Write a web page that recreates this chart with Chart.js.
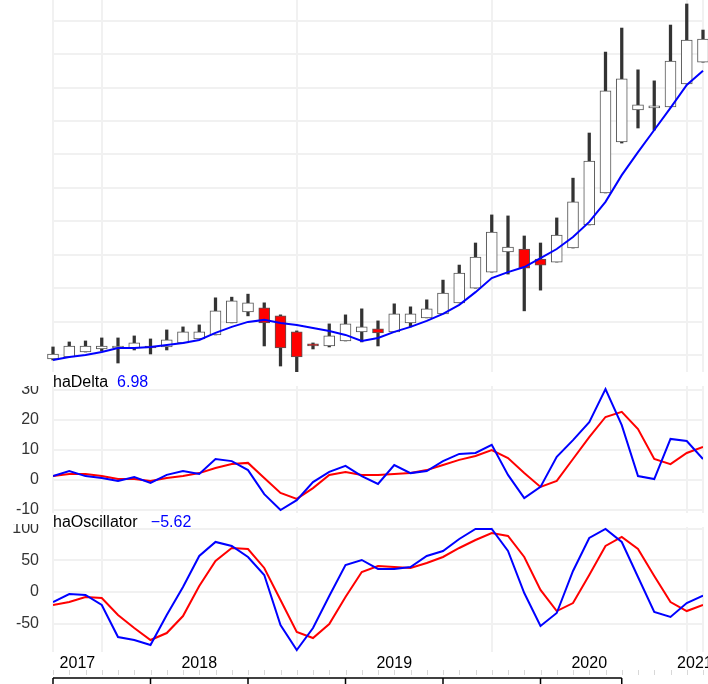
<!DOCTYPE html>
<html><head><meta charset="utf-8">
<script src="https://cdn.jsdelivr.net/npm/chart.js@4/dist/chart.umd.min.js"></script>
<style>
html,body{margin:0;padding:0;background:#fff;width:708px;height:684px;overflow:hidden;position:relative;font-family:"Liberation Sans",Arial,sans-serif;}
.p{position:absolute;left:0;width:760px;}
.t{position:absolute;font-size:16px;line-height:16px;white-space:pre;color:#000;}
.t b{font-weight:normal;color:#0000ff;}
</style></head><body>
<div class="p" style="top:0;height:372px"><canvas id="c1"></canvas></div>
<div class="p" style="top:386px;height:128px"><canvas id="c2"></canvas></div>
<div class="p" style="top:524px;height:160px"><canvas id="c3"></canvas></div>
<div class="t" style="left:53px;top:373.5px">haDelta  <b>6.98</b></div>
<div class="t" style="left:53px;top:513.5px">haOscillator   <b>−5.62</b></div>
<script>
const months = ['2017-10','2017-11','2017-12','2018-01','2018-02','2018-03','2018-04','2018-05','2018-06','2018-07','2018-08','2018-09','2018-10','2018-11','2018-12','2019-01','2019-02','2019-03','2019-04','2019-05','2019-06','2019-07','2019-08','2019-09','2019-10','2019-11','2019-12','2020-01','2020-02','2020-03','2020-04','2020-05','2020-06','2020-07','2020-08','2020-09','2020-10','2020-11','2020-12','2021-01','2021-02'];
const haOpen  = [18.8,19.4,20.9,21.8,22.1,22.1,22.7,22.4,23.6,24.8,26.0,29.6,32.9,34.1,31.7,26.9,23.3,22.7,24.2,26.9,27.8,26.9,29.6,31.1,32.3,35.6,40.0,44.8,50.8,51.7,48.7,47.8,52.0,58.9,68.5,83.7,93.3,93.9,94.2,101.1,107.6];
const haHigh  = [22.4,23.9,24.2,25.1,25.1,25.7,24.8,27.5,28.4,29.0,37.1,37.3,38.2,35.6,32.0,27.2,23.6,29.3,32.0,33.8,30.2,35.3,34.4,36.5,42.4,46.9,53.5,61.9,61.6,55.6,53.5,61.0,72.9,86.4,110.6,117.8,105.3,102.0,118.7,125.0,117.2];
const haLow   = [18.5,19.4,20.9,21.2,17.6,21.5,20.3,21.5,23.6,24.8,26.0,29.6,31.7,22.7,16.7,14.9,21.8,22.4,24.2,23.9,22.7,26.9,28.4,31.1,32.3,35.6,40.0,44.8,44.2,33.2,39.4,47.8,52.0,58.9,68.5,83.4,87.9,87.3,94.2,101.1,107.6];
const haClose = [20.3,22.7,22.7,22.7,22.4,23.6,22.1,24.5,26.9,26.9,33.2,36.2,35.6,29.6,22.1,19.4,22.7,25.7,29.3,28.4,26.6,32.3,32.3,33.8,38.5,44.5,49.3,56.8,52.3,46.0,46.9,55.9,65.8,78.0,99.0,102.6,94.8,94.2,107.9,114.2,114.5];
const smaLine = [18.5,19.4,20.0,20.9,22.1,22.1,22.4,23.0,23.6,24.5,26.6,28.4,29.9,30.5,29.6,29.0,28.1,27.2,26.0,24.2,25.1,26.9,28.4,30.2,32.3,35.0,38.8,43.0,44.8,46.3,49.0,51.7,55.3,59.8,65.8,73.8,80.7,87.3,93.9,100.8,105.0];
const haDelta    = [1.3,3.0,1.3,0.7,-0.3,1.0,-1.0,1.7,3.0,2.0,7.0,6.3,3.3,-4.7,-10.0,-6.7,-0.7,2.7,4.7,1.3,-1.3,5.0,2.3,3.0,6.3,8.7,9.0,11.7,1.7,-6.0,-2.3,7.7,13.3,19.3,30.3,18.3,1.3,0.3,13.7,13.0,6.98];
const haDeltaSig = [1.3,2.0,2.0,1.3,0.3,0.3,-0.3,0.7,1.3,2.3,4.0,5.3,5.7,0.7,-4.3,-6.3,-2.7,1.7,2.7,1.7,1.7,2.0,2.3,3.3,5.0,6.7,8.0,10.0,7.3,2.3,-2.3,-0.3,7.0,14.3,21.0,22.7,17.0,7.0,5.3,9.0,11.0];
const haOsc      = [-15.8,-3.2,-4.7,-20.5,-71.0,-75.7,-83.6,-36.3,7.9,56.8,78.9,72.6,55.2,26.8,-52,-91.5,-56.8,-6.3,42.6,50.5,36.3,36.3,39.4,56.8,64.7,83.6,99.4,99.4,64.7,-1.6,-53.6,-33.1,33.1,85.2,99.4,78.9,23.7,-31.5,-39.4,-17.4,-5.62];
const haOscSig   = [-20.5,-15.8,-7.9,-9.5,-36.3,-56.8,-75.7,-64.7,-37.9,9.5,48.9,69.4,67.8,37.9,-12.6,-63.1,-72.6,-50.5,-7.9,31.5,41.0,39.4,37.9,45.7,55.2,69.4,82.0,93.1,88.3,55.2,3.2,-30.0,-17.4,26.8,72.6,86.8,67.8,25.2,-15.8,-30.0,-20.5];
const axisTicks = [0,6,12,18,24,30,35];

const N = months.length;
const years = months.map(m => m.slice(0,4));
const yearStarts = [0];
for (let i = 1; i < N; i++) if (years[i] !== years[i-1]) yearStarts.push(i);
const gridX = yearStarts.concat([N-1]);
const edges = yearStarts.concat([N-1]);
const yearMid = yearStarts.map((s,k) => (s + edges[k+1]) / 2);
const yearLab = yearStarts.map(s => years[s]);

const GRID = '#f1f1f1';
const PADR = 760 - 703;
function yAxis(min, max, step, show) {
  return {
    min, max, position: 'left',
    afterFit(s){ s.width = 53; s.paddingTop = 0; s.paddingBottom = 0; },
    border: {display:false},
    grid: {color: GRID, lineWidth: 2, drawTicks: false},
    ticks: {display: show, stepSize: step, includeBounds: false, padding: 14,
      color: '#333', font: {family: 'Liberation Sans', size: 16}}
  };
}
function xGrid() {
  return {
    type: 'linear', min: 0, max: N-1, offset: false,
    display: true,
    border: {display:false},
    afterFit(s){ s.height = 0; s.paddingLeft = 0; s.paddingRight = 0; },
    afterBuildTicks(s){ s.ticks = gridX.map(v=>({value:v})); },
    grid: {color: GRID, lineWidth: 2, drawTicks: false, offset:false},
    ticks: {display: false}
  };
}
const common = {responsive: true, maintainAspectRatio: false, animation: false,
  plugins: {legend:{display:false}, tooltip:{enabled:false}},
  elements: {point:{radius:0}, line:{tension:0}}};

// main panel
new Chart(document.getElementById('c1'), {
  type: 'bar',
  data: { datasets: [
    { type:'line', data: smaLine.map((v,i)=>({x:i,y:v})), borderColor:'#0000ff', borderWidth:2, order:1, clip:false },
    { data: haClose.map((c,i)=>({x:i,y:[haOpen[i],c]})), barThickness:11, grouped:false, order:2, clip:false,
      backgroundColor: haClose.map((c,i)=> c < haOpen[i] ? '#ff0000' : '#ffffff'),
      borderColor:'#555', borderWidth:1, borderSkipped:false, minBarLength:2 },
    { data: haHigh.map((h,i)=>({x:i,y:[haLow[i],h]})), barThickness:2.6, grouped:false, order:3, clip:false,
      backgroundColor:'#333', borderWidth:0 }
  ]},
  options: Object.assign({}, common, {
    layout: {autoPadding:false, padding: {left:0, right:PADR, top:0, bottom:0}},
    scales: { x: xGrid(), y: yAxis(14.91, 126.19, 10, false) }
  })
});

new Chart(document.getElementById('c2'), {
  type: 'line',
  data: { datasets: [
    { data: haDeltaSig.map((v,i)=>({x:i,y:v})), borderColor:'#ff0000', borderWidth:2, order:2 },
    { data: haDelta.map((v,i)=>({x:i,y:v})), borderColor:'#0000ff', borderWidth:2, order:1 }
  ]},
  options: Object.assign({}, common, {
    layout: {autoPadding:false, padding: {left:0, right:PADR, top:0, bottom:1}},
    scales: { x: xGrid(), y: yAxis(-11, 31.33, 10, true) }
  })
});

const bottomAxis = {
  id: 'bottomAxis',
  afterDraw(chart) {
    const ctx = chart.ctx, x = chart.scales.x;
    const yl = 154;
    ctx.save();
    ctx.strokeStyle = '#d8d8d8'; ctx.lineWidth = 1;
    for (let i = 0; i < N; i++) {
      const px = Math.round(x.getPixelForValue(i)) + 0.5;
      ctx.beginPath(); ctx.moveTo(px, yl-8); ctx.lineTo(px, yl-3); ctx.stroke();
    }
    ctx.strokeStyle = '#000'; ctx.lineWidth = 1.5;
    ctx.beginPath();
    ctx.moveTo(x.getPixelForValue(axisTicks[0]), yl);
    ctx.lineTo(x.getPixelForValue(axisTicks[axisTicks.length-1]), yl);
    ctx.stroke();
    axisTicks.forEach(v => { const px = x.getPixelForValue(v);
      ctx.beginPath(); ctx.moveTo(px, yl); ctx.lineTo(px, yl+10); ctx.stroke(); });
    ctx.restore();
  }
};

new Chart(document.getElementById('c3'), {
  type: 'line',
  data: { datasets: [
    { data: haOscSig.map((v,i)=>({x:i,y:v})), borderColor:'#ff0000', borderWidth:2, order:2 },
    { data: haOsc.map((v,i)=>({x:i,y:v})), borderColor:'#0000ff', borderWidth:2, order:1 }
  ]},
  options: Object.assign({}, common, {
    layout: {autoPadding:false, padding: {left:0, right:PADR, top:3, bottom:0}},
    scales: {
      x: {
        type:'linear', min:0, max:N-1, offset:false,
        border:{display:false},
        afterFit(s){ s.height = 32; s.paddingLeft = 0; s.paddingRight = 0; },
        afterBuildTicks(s){ s.ticks = gridX.map(v=>({value:v, g:1})).concat(yearMid.map((v,k)=>({value:v, lab:yearLab[k]}))); },
        grid: {lineWidth:2, drawTicks:false, color: c => (c.tick && c.tick.g) ? GRID : 'rgba(0,0,0,0)'},
        ticks: {autoSkip:false, maxRotation:0, padding:2, color:'#000', font:{family:'Liberation Sans', size:16},
          callback(v, i, ticks){ return ticks[i].lab || ''; } }
      },
      y: yAxis(-94.6, 102.5, 50, true)
    }
  }),
  plugins: [bottomAxis]
});
</script>
</body></html>
